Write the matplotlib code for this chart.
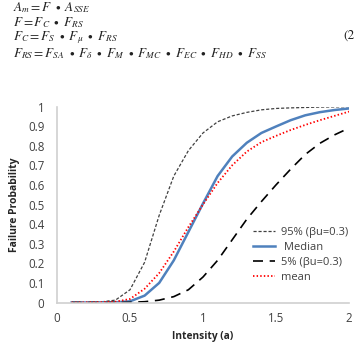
import matplotlib
matplotlib.use("Agg")
import matplotlib.pyplot as plt

plt.rcParams['mathtext.fontset'] = 'stix'
plt.rcParams['font.family'] = ['Open Sans', 'DejaVu Sans']

intensity = [0.1, 0.2, 0.3, 0.4, 0.5, 0.6, 0.7, 0.8, 0.9, 1.0,
             1.1, 1.2, 1.3, 1.4, 1.5, 1.6, 1.7, 1.8, 1.9, 2.0]
p95 = [0.0, 0.0, 0.003, 0.012, 0.065, 0.205, 0.445, 0.645, 0.775, 0.865,
       0.922, 0.952, 0.970, 0.983, 0.990, 0.993, 0.995, 0.997, 0.998, 0.999]
median = [0.0, 0.0, 0.0, 0.001, 0.006, 0.035, 0.1, 0.215, 0.36, 0.505,
          0.645, 0.745, 0.815, 0.865, 0.898, 0.93, 0.955, 0.971, 0.982, 0.99]
p5 = [0.0, 0.0, 0.0, 0.0, 0.001, 0.004, 0.012, 0.03, 0.065, 0.13,
      0.215, 0.32, 0.425, 0.515, 0.60, 0.68, 0.755, 0.812, 0.855, 0.89]
mean = [0.0, 0.001, 0.002, 0.004, 0.018, 0.07, 0.15, 0.26, 0.385, 0.50,
        0.61, 0.70, 0.77, 0.818, 0.85, 0.88, 0.906, 0.93, 0.952, 0.974]

labels = ['95% (βu=0.3)', ' Median', '5% (βu=0.3)', 'mean']
xticks = [0, 0.5, 1, 1.5, 2]
xticklabels = ['0', '0.5', '1', '1.5', '2']
yticks = [0, 0.1, 0.2, 0.3, 0.4, 0.5, 0.6, 0.7, 0.8, 0.9, 1.0]
yticklabels = ['0', '0.1', '0.2', '0.3', '0.4', '0.5', '0.6', '0.7', '0.8', '0.9', '1']

equations = [r'$A_m = F\ \bullet\ A_{SSE}$',
             r'$F = F_C\ \bullet\ F_{RS}$',
             r'$F_C = F_S\ \bullet\ F_{\mu}\ \bullet\ F_{RS}$',
             r'$F_{RS} = F_{SA}\ \bullet\ F_{\delta}\ \bullet\ F_M\ \bullet\ F_{MC}\ \bullet\ F_{EC}\ \bullet\ F_{HD}\ \bullet\ F_{SS}$']

fig = plt.figure(figsize=(3.58, 3.49), dpi=100)
ax = fig.add_axes([57/358, 1 - 302.5/349, 292/358, 196/349])

ax.plot(intensity, p95, color='#404040', lw=0.9, ls=(0, (2.5, 1.5)), label=labels[0])
ax.plot(intensity, median, color='#4F81BD', lw=1.8, label=labels[1])
ax.plot(intensity, p5, color='black', lw=1.2, ls=(0, (6, 4)), label=labels[2])
ax.plot(intensity, mean, color='#FF0000', lw=1.3, ls=(0, (0.8, 1.2)), label=labels[3])

ax.set_xlim(0, 2)
ax.set_ylim(0, 1)
ax.set_xticks(xticks)
ax.set_xticklabels(xticklabels)
ax.set_yticks(yticks)
ax.set_yticklabels(yticklabels)
ax.tick_params(axis='both', length=0, labelsize=8.3, colors='#404040')
ax.tick_params(axis='y', pad=9)
ax.tick_params(axis='x', pad=7)
for s in ['top', 'right']:
    ax.spines[s].set_visible(False)
for s in ['left', 'bottom']:
    ax.spines[s].set_color('#D0D0D0')
    ax.spines[s].set_linewidth(1.2)

ax.set_xlabel('Intensity (a)', fontsize=7.3, fontweight='bold', color='#262626', labelpad=4)
ax.set_ylabel('Failure Probability', fontsize=7.5, fontweight='bold', color='#262626', labelpad=6)

leg = ax.legend(loc='lower right', bbox_to_anchor=(1.03, 0.05), frameon=False,
                fontsize=8, handlelength=2.0, handletextpad=0.5, labelspacing=0.35,
                labelcolor='#404040')

ys = [8, 23, 38, 54]
for eq, yy in zip(equations, ys):
    fig.text(13/358, 1 - yy/349, eq, fontsize=9.5, va='center', ha='left', color='#222222')
fig.text(343/358, 1 - 36/349, '(2', fontsize=9.5, va='center', ha='left', color='#222222',
         family='STIXGeneral')

fig.savefig('out.png', dpi=100)
